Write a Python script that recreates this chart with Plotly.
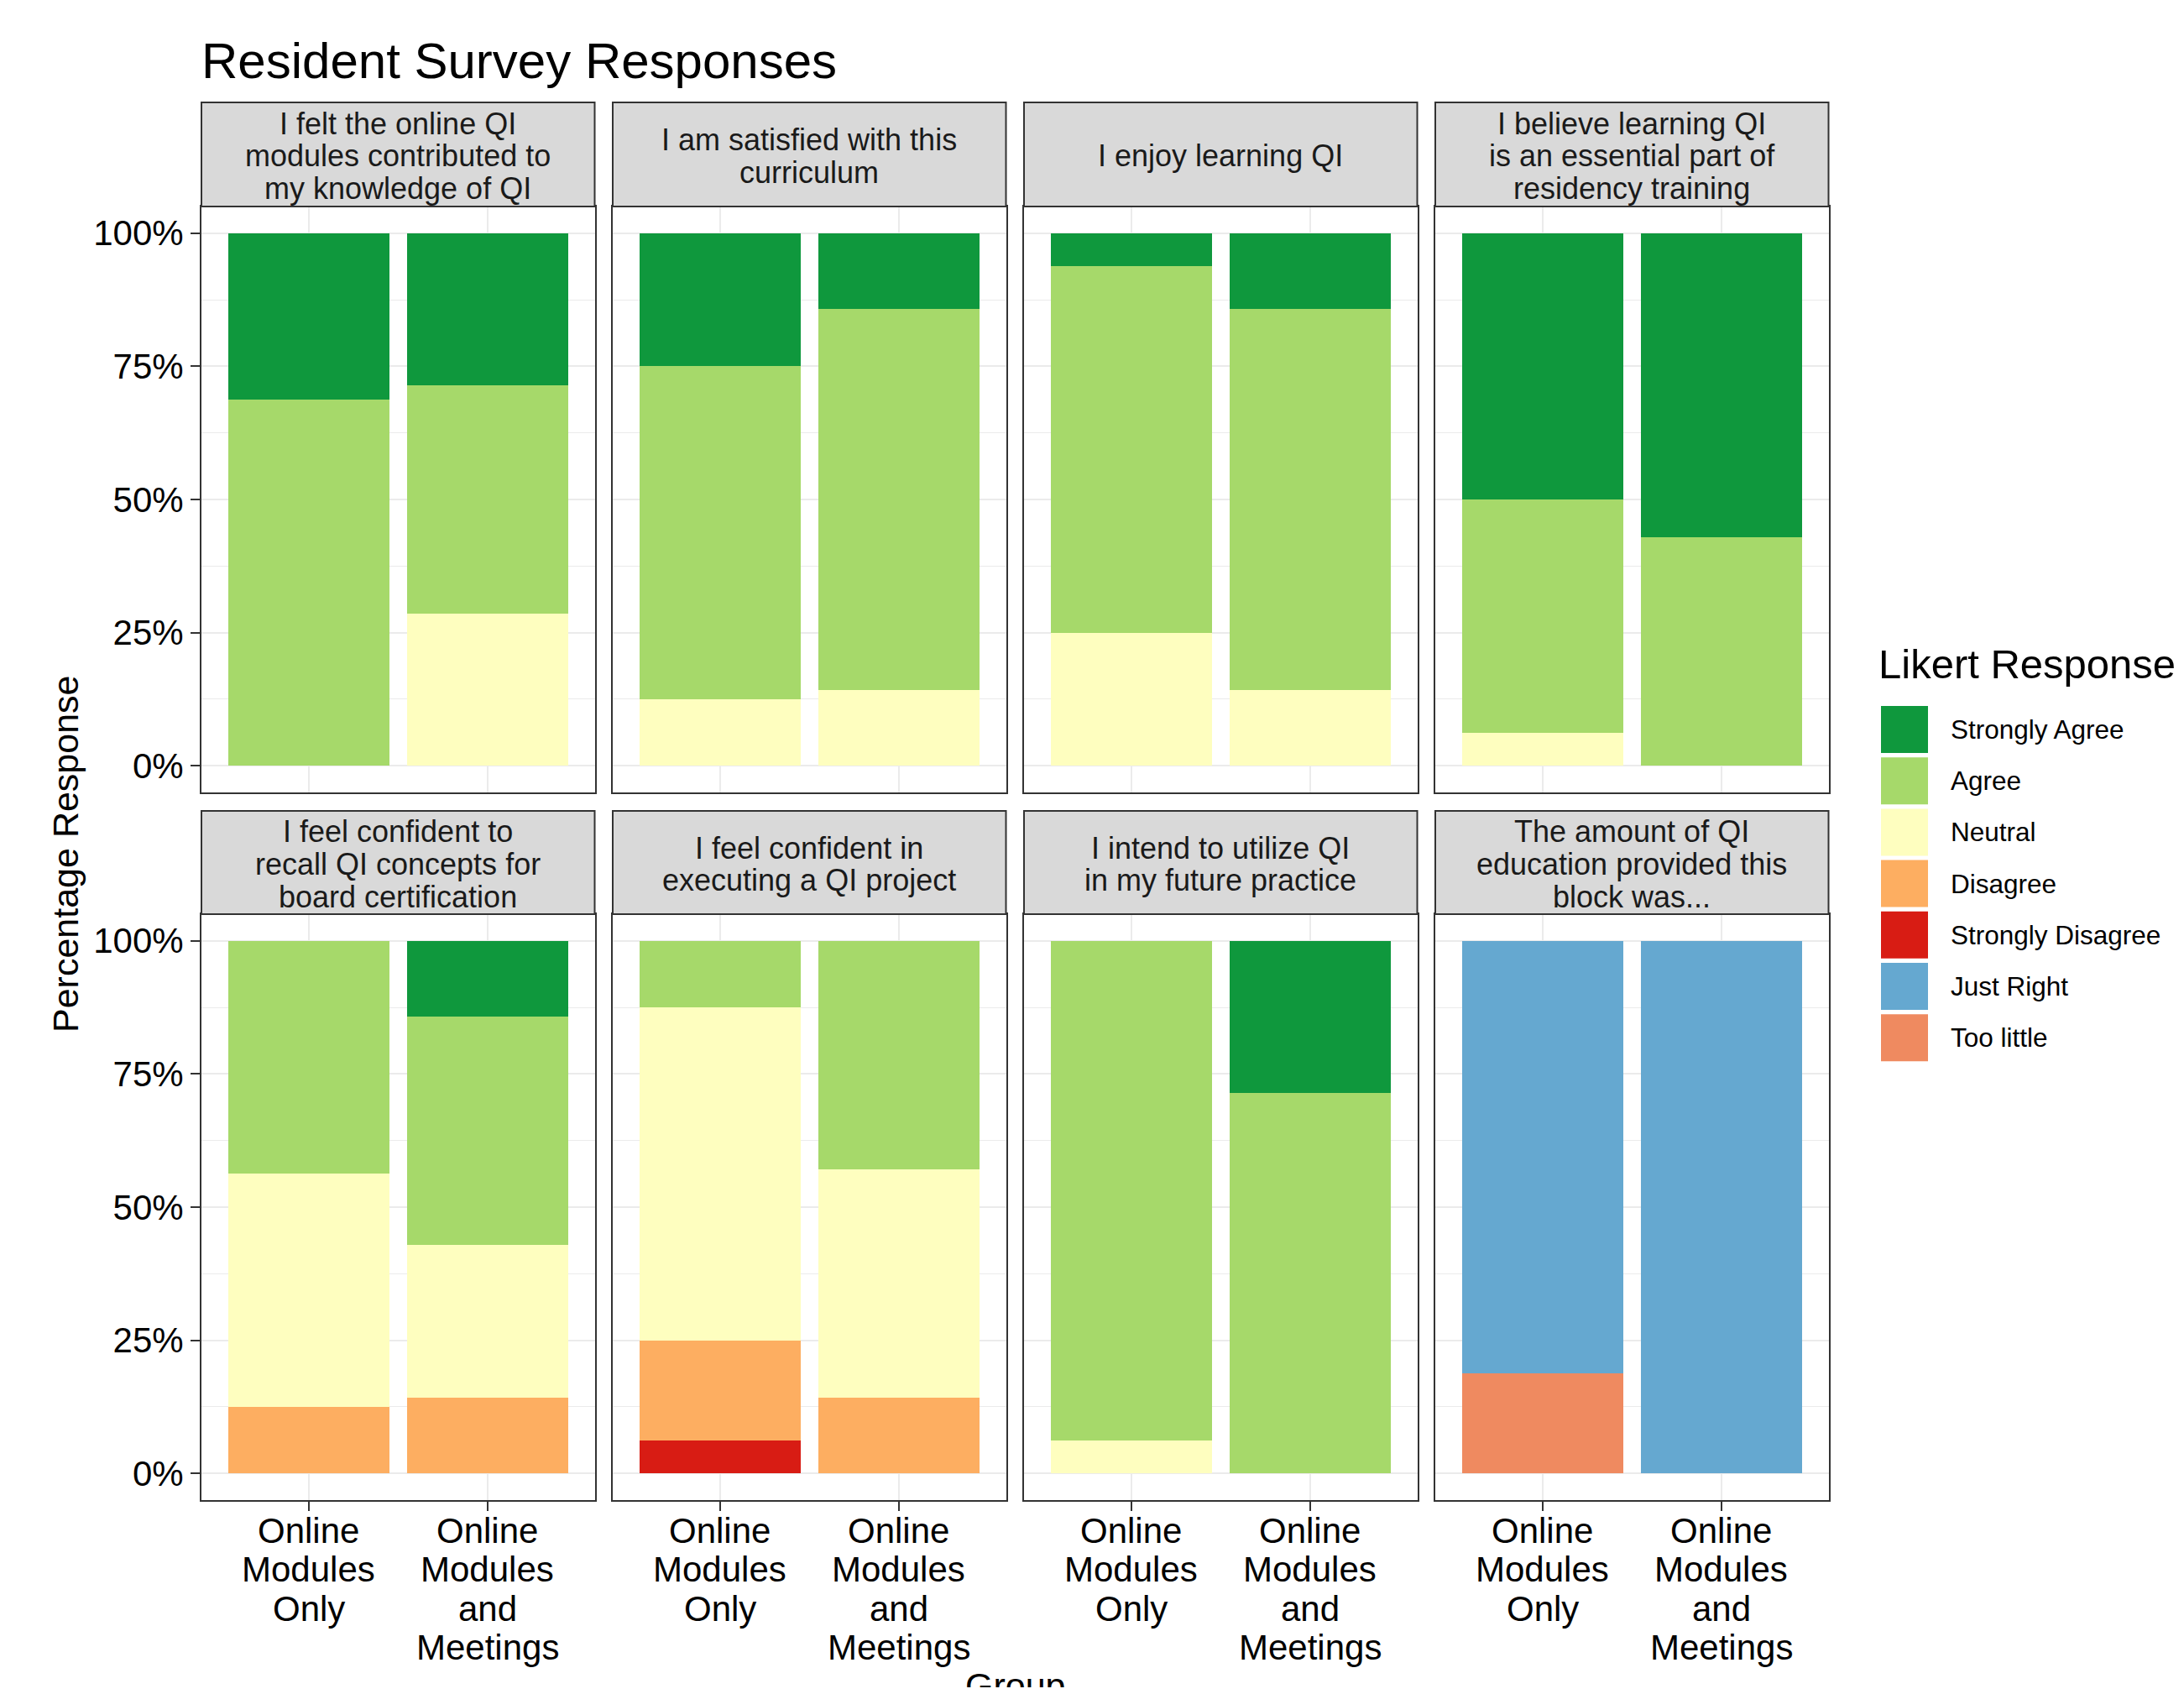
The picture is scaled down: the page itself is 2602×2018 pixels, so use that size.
import plotly.graph_objects as go

W, H = 2602, 2018          # browser window
OFF = 8                    # default body margin of the page
FW, FH = W - 2 * OFF, H - 2 * OFF   # figure size
FONT = "Liberation Sans, Arial, Helvetica, sans-serif"

# ---------------- data ----------------
questions = [
    "I felt the online QI<br>modules contributed to<br>my knowledge of QI",
    "I am satisfied with this<br>curriculum",
    "I enjoy learning QI",
    "I believe learning QI<br>is an essential part of<br>residency training",
    "I feel confident to<br>recall QI concepts for<br>board certification",
    "I feel confident in<br>executing a QI project",
    "I intend to utilize QI<br>in my future practice",
    "The amount of QI<br>education provided this<br>block was...",
]
groups = ["Online Modules Only", "Online Modules and Meetings"]
group_ticktext = ["Online<br>Modules<br>Only", "Online<br>Modules<br>and<br>Meetings"]

responses = ["Strongly Agree", "Agree", "Neutral", "Disagree",
             "Strongly Disagree", "Just Right", "Too little"]
colors = ["#0f983d", "#a6d96a", "#fefebf", "#fdae61",
          "#d81c14", "#65a8d0", "#ef8a60"]

# percentage of responses per question (8 panels)
strongly_agree_only = [31.25, 25.0, 6.25, 50.0, 0, 0, 0, 0]
strongly_agree_meet = [28.57, 14.29, 14.29, 57.14, 14.29, 0, 28.57, 0]
agree_only = [68.75, 62.5, 68.75, 43.75, 43.75, 12.5, 93.75, 0]
agree_meet = [42.86, 71.43, 71.43, 42.86, 42.86, 42.86, 71.43, 0]
neutral_only = [0, 12.5, 25.0, 6.25, 43.75, 62.5, 6.25, 0]
neutral_meet = [28.57, 14.29, 14.29, 0, 28.57, 42.86, 0, 0]
disagree_only = [0, 0, 0, 0, 12.5, 18.75, 0, 0]
disagree_meet = [0, 0, 0, 0, 14.29, 14.29, 0, 0]
strongly_disagree_only = [0, 0, 0, 0, 0, 6.25, 0, 0]
strongly_disagree_meet = [0, 0, 0, 0, 0, 0, 0, 0]
just_right_only = [0, 0, 0, 0, 0, 0, 0, 81.25]
just_right_meet = [0, 0, 0, 0, 0, 0, 0, 100.0]
too_little_only = [0, 0, 0, 0, 0, 0, 0, 18.75]
too_little_meet = [0, 0, 0, 0, 0, 0, 0, 0]

series = {
    "Strongly Agree": (strongly_agree_only, strongly_agree_meet),
    "Agree": (agree_only, agree_meet),
    "Neutral": (neutral_only, neutral_meet),
    "Disagree": (disagree_only, disagree_meet),
    "Strongly Disagree": (strongly_disagree_only, strongly_disagree_meet),
    "Just Right": (just_right_only, just_right_meet),
    "Too little": (too_little_only, too_little_meet),
}

y_ticks = [0, 25, 50, 75, 100]
y_ticktext = ["0%", "25%", "50%", "75%", "100%"]

# ---------------- layout geometry (page pixels) ----------------
col_x = [(240, 708.5), (730, 1198.5), (1220, 1688.5), (1710, 2178.5)]
row_strip = [(122, 246), (966, 1089)]
row_panel = [(246, 944), (1089, 1787)]
tick_line_y = [1823, 1869.5, 1916, 1962]

def px_x(v):
    return (v - OFF) / FW

def px_y(v):
    return 1 - (v - OFF) / FH

fig = go.Figure()
layout = dict(
    width=FW, height=FH, autosize=False,
    margin=dict(l=0, r=0, t=0, b=0),
    paper_bgcolor="white", plot_bgcolor="white",
    barmode="stack", bargap=0.1,
    showlegend=False,
    font=dict(family=FONT, color="#000000"),
)
shapes = []
annotations = []

stack_order = list(reversed(responses))  # bottom first

for i in range(8):
    r, c = divmod(i, 4)
    n = i + 1
    xa = "x" if n == 1 else f"x{n}"
    ya = "y" if n == 1 else f"y{n}"
    for resp in stack_order:
        only, meet = series[resp]
        fig.add_trace(go.Bar(
            x=groups, y=[only[i], meet[i]],
            xaxis=xa, yaxis=ya, name=resp,
            marker=dict(color=colors[responses.index(resp)], line=dict(width=0)),
            width=0.9, showlegend=False,
        ))
    x0, x1 = col_x[c]
    p0, p1 = row_panel[r]
    bottom = (r == 1)
    left = (c == 0)
    layout["xaxis" if n == 1 else f"xaxis{n}"] = dict(
        domain=[px_x(x0), px_x(x1)], anchor=ya,
        type="category", categoryorder="array", categoryarray=groups,
        range=[-0.6, 1.6],
        tickvals=groups, ticktext=group_ticktext,
        showticklabels=False,
        ticks="outside" if bottom else "", ticklen=11, tickwidth=2, tickcolor="#333333",
        showgrid=True, gridcolor="#ebebeb", gridwidth=2,
        showline=True, mirror=True, linecolor="#333333", linewidth=2,
        zeroline=False, fixedrange=True,
    )
    layout["yaxis" if n == 1 else f"yaxis{n}"] = dict(
        domain=[px_y(p1), px_y(p0)], anchor=xa,
        range=[-5, 105],
        tickvals=y_ticks, ticktext=y_ticktext,
        showticklabels=left,
        ticks="outside" if left else "", ticklen=11, tickwidth=2, tickcolor="#333333",
        tickfont=dict(size=42, color="#000000", family=FONT),
        showgrid=True, gridcolor="#ebebeb", gridwidth=2.2,
        minor=dict(tickvals=[12.5, 37.5, 62.5, 87.5], showgrid=True,
                   gridcolor="#ebebeb", gridwidth=1.1, ticks=""),
        showline=True, mirror=True, linecolor="#333333", linewidth=2,
        zeroline=False, fixedrange=True,
    )
    # x tick labels (bottom row), one annotation per line for ggplot-like spacing
    if bottom:
        for gi, txt in enumerate(group_ticktext):
            for li, line in enumerate(txt.split("<br>")):
                annotations.append(dict(
                    xref=xa, yref="paper", x=gi, y=px_y(tick_line_y[li]),
                    xanchor="center", yanchor="middle", showarrow=False,
                    text=line, font=dict(size=42, color="#000000", family=FONT),
                ))
    # facet strip
    s0, s1 = row_strip[r]
    shapes.append(dict(
        type="rect", xref="paper", yref="paper",
        x0=px_x(x0), x1=px_x(x1), y0=px_y(s1), y1=px_y(s0),
        fillcolor="#d9d9d9", line=dict(color="#333333", width=2), layer="above",
    ))
    lines = questions[i].split("<br>")
    mid = (s0 + s1) / 2 + 2
    for li, line in enumerate(lines):
        yy = mid + (li - (len(lines) - 1) / 2) * 38.5
        annotations.append(dict(
            xref="paper", yref="paper", x=px_x((x0 + x1) / 2), y=px_y(yy),
            xanchor="center", yanchor="middle", showarrow=False,
            text=line, font=dict(size=36, color="#1a1a1a", family=FONT),
        ))

# title
annotations.append(dict(
    xref="paper", yref="paper", x=px_x(238), y=px_y(72),
    xanchor="left", yanchor="middle", showarrow=False,
    text="Resident Survey Responses",
    font=dict(size=60, color="#000000", family=FONT),
))
# y axis title
annotations.append(dict(
    xref="paper", yref="paper", x=px_x(78), y=px_y(1017),
    xanchor="center", yanchor="middle", showarrow=False, textangle=-90,
    text="Percentage Response",
    font=dict(size=43, color="#000000", family=FONT),
))
# x axis title (sits at the bottom edge as in reference)
annotations.append(dict(
    xref="paper", yref="paper", x=px_x(1210), y=px_y(1982),
    xanchor="center", yanchor="top", showarrow=False,
    text="Group",
    font=dict(size=43, color="#000000", family=FONT),
))

# legend (manual, large keys)
annotations.append(dict(
    xref="paper", yref="paper", x=px_x(2236), y=px_y(791),
    xanchor="left", yanchor="middle", showarrow=False,
    text="Likert Response",
    font=dict(size=49, color="#000000", family=FONT),
))
key_top = 841
key_step = 61.2
key_h = 56
for k, resp in enumerate(responses):
    t = key_top + k * key_step
    shapes.append(dict(
        type="rect", xref="paper", yref="paper",
        x0=px_x(2241), x1=px_x(2297), y0=px_y(t + key_h), y1=px_y(t),
        fillcolor=colors[k], line=dict(width=0),
    ))
    annotations.append(dict(
        xref="paper", yref="paper", x=px_x(2322), y=px_y(t + key_h / 2),
        xanchor="left", yanchor="middle", showarrow=False,
        text=resp, font=dict(size=31.5, color="#000000", family=FONT),
    ))

layout["shapes"] = shapes
layout["annotations"] = annotations
fig.update_layout(**layout)

fig.write_html("out.html")
